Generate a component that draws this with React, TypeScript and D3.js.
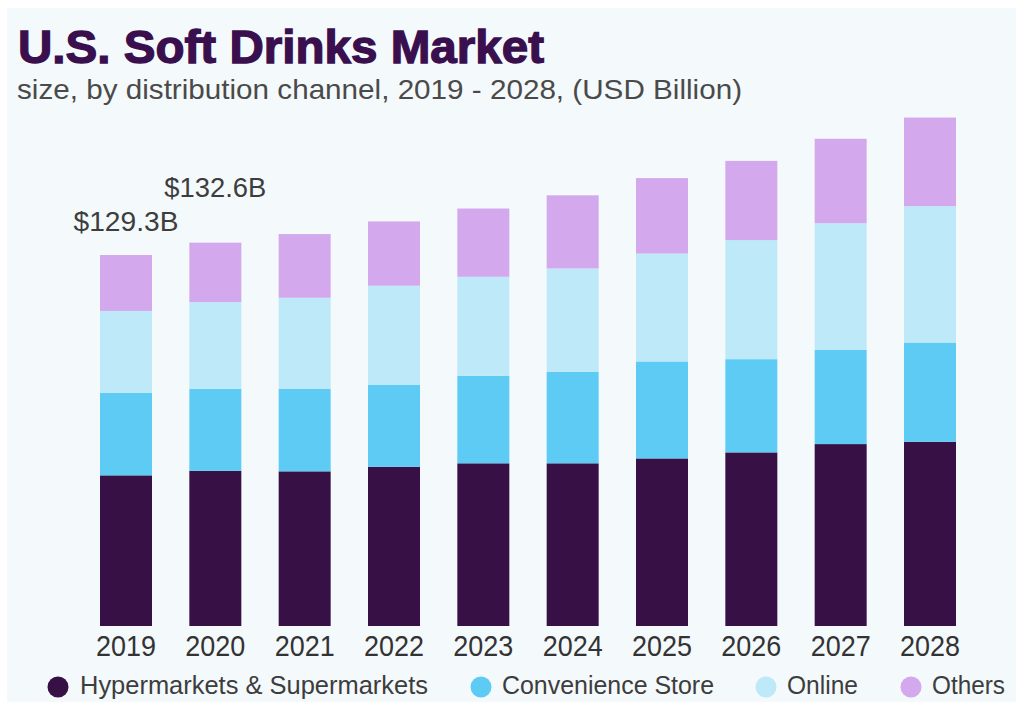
import React from "react";
import * as d3 from "d3";

const years = ["2019", "2020", "2021", "2022", "2023", "2024", "2025", "2026", "2027", "2028"];
const seriesNames = ["Hypermarkets & Supermarkets", "Convenience Store", "Online", "Others"];
const hyper = [52.5, 54.1, 53.9, 55.5, 56.7, 56.7, 58.4, 60.5, 63.4, 64.2];
const convenience = [28.8, 28.6, 28.7, 28.5, 30.5, 31.9, 33.8, 32.5, 32.8, 34.6];
const online = [28.5, 30.2, 31.8, 34.6, 34.5, 36.0, 37.6, 41.5, 44.2, 47.5];
const others = [19.5, 20.7, 22.2, 22.4, 23.8, 25.5, 26.3, 27.6, 29.4, 30.9];
const annotations = [
  { year: "2019", text: "$129.3B" },
  { year: "2020", text: "$132.6B" },
];

const colors = ["#371046", "#5ecbf5", "#bde9f9", "#d3a8ec"];

export default function App() {
  const W = 1017;
  const H = 702;
  const baseline = 626;
  const pxPerUnit = 371 / 129.3;

  const rows = years.map((y, i) => ({
    year: y,
    s0: hyper[i],
    s1: convenience[i],
    s2: online[i],
    s3: others[i],
  }));
  const keys = ["s0", "s1", "s2", "s3"];
  const stacked = d3.stack<any>().keys(keys)(rows);

  const x = d3.scaleBand<string>().domain(years).range([100, 956]).paddingInner(0.418).paddingOuter(0);
  const y = d3.scaleLinear().domain([0, 200]).range([baseline, baseline - 200 * pxPerUnit]);

  const totals = rows.map((r) => r.s0 + r.s1 + r.s2 + r.s3);
  const annOffsets = [24, 46];
  const annLengths = [105, 102];

  const legendCircles = [58, 481, 766, 911];
  const legendTextX = [80, 502, 787, 932];
  const legendLens = [348, 212, 71, 73];

  const font = "'Liberation Sans', Arial, sans-serif";

  return (
    <svg
      width={W}
      height={H}
      style={{ position: "absolute", left: 0, top: 0, background: "#ffffff" }}
      fontFamily={font}
    >
      <rect x={7} y={8} width={1009} height={694} fill="#f4f9fc" />
      <text
        x={18}
        y={63}
        fontSize={46}
        fontWeight="bold"
        fill="#3a0f4e"
        stroke="#3a0f4e"
        strokeWidth={1.3}
        textLength={526}
        lengthAdjust="spacingAndGlyphs"
      >
        U.S. Soft Drinks Market
      </text>
      <text x={17} y={99} fontSize={28} fill="#4a4a4a" textLength={725} lengthAdjust="spacingAndGlyphs">
        size, by distribution channel, 2019 - 2028, (USD Billion)
      </text>

      {stacked.map((layer, li) => (
        <g key={li} fill={colors[li]}>
          {layer.map((d: any, i: number) => (
            <rect
              key={i}
              x={x(years[i])}
              y={y(d[1])}
              width={x.bandwidth()}
              height={y(d[0]) - y(d[1])}
            />
          ))}
        </g>
      ))}

      {annotations.map((a, i) => {
        const idx = years.indexOf(a.year);
        return (
          <text
            key={i}
            x={(x(a.year) as number) + x.bandwidth() / 2}
            y={y(totals[idx]) - annOffsets[i]}
            textAnchor="middle"
            fontSize={27}
            fill="#3d3d3d"
            textLength={annLengths[i]}
            lengthAdjust="spacingAndGlyphs"
          >
            {a.text}
          </text>
        );
      })}

      {years.map((yr) => (
        <text
          key={yr}
          x={(x(yr) as number) + x.bandwidth() / 2}
          y={656}
          textAnchor="middle"
          fontSize={30}
          fill="#333333"
          textLength={60}
          lengthAdjust="spacingAndGlyphs"
        >
          {yr}
        </text>
      ))}

      {seriesNames.map((name, i) => (
        <g key={name}>
          <circle cx={legendCircles[i]} cy={687} r={10.5} fill={colors[i]} />
          <text
            x={legendTextX[i]}
            y={694}
            fontSize={25}
            fill="#3d3d3d"
            textLength={legendLens[i]}
            lengthAdjust="spacingAndGlyphs"
          >
            {name}
          </text>
        </g>
      ))}
    </svg>
  );
}
